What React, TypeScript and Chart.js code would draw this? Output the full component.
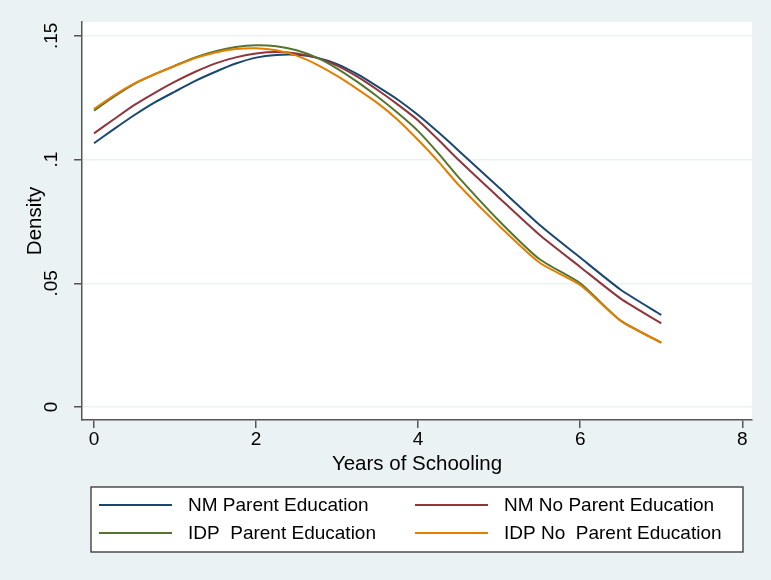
import React, { useEffect, useRef } from 'react';
import { Chart, registerables } from 'chart.js';

Chart.register(...registerables);

// ---- data ----
const xValues = [0, 0.25, 0.5, 0.75, 1, 1.25, 1.5, 1.75, 2, 2.25, 2.5, 2.75, 3, 3.25, 3.5, 3.75, 4, 4.25, 4.5, 5, 5.5, 6, 6.5, 7];

const nmParentEducation = [0.1066, 0.1124, 0.118, 0.1231, 0.1275, 0.1318, 0.1355, 0.1388, 0.1412, 0.1423, 0.1424, 0.1412, 0.1386, 0.1345, 0.1295, 0.1242, 0.118, 0.111, 0.1036, 0.0886, 0.0736, 0.0604, 0.0474, 0.0372];
const nmNoParentEducation = [0.1106, 0.1164, 0.1221, 0.127, 0.1315, 0.1355, 0.1389, 0.1413, 0.1429, 0.1435, 0.1429, 0.1411, 0.138, 0.1335, 0.1281, 0.1222, 0.1158, 0.108, 0.0998, 0.0845, 0.0695, 0.0566, 0.0438, 0.0338];
const idpParentEducation = [0.1198, 0.1255, 0.1306, 0.1345, 0.138, 0.1413, 0.1438, 0.1455, 0.1462, 0.1458, 0.1442, 0.1412, 0.1368, 0.1314, 0.1254, 0.1188, 0.1115, 0.1025, 0.0928, 0.0752, 0.0597, 0.05, 0.0349, 0.026];
const idpNoParentEducation = [0.1205, 0.126, 0.1308, 0.1345, 0.1378, 0.141, 0.1433, 0.1447, 0.145, 0.1442, 0.142, 0.1384, 0.1338, 0.1285, 0.1228, 0.116, 0.1079, 0.0992, 0.0897, 0.0732, 0.0583, 0.0493, 0.0348, 0.026];

const seriesLabels = ['NM Parent Education', 'NM No Parent Education', 'IDP  Parent Education', 'IDP No  Parent Education'];
const seriesValues = [nmParentEducation, nmNoParentEducation, idpParentEducation, idpNoParentEducation];
const seriesColors = ['#1a476f', '#90353b', '#55752f', '#e37e00'];

const xTicks = [0, 2, 4, 6, 8];
const xTickLabels = ['0', '2', '4', '6', '8'];
const yTicks = [0, 0.05, 0.1, 0.15];
const yTickLabels = ['0', '.05', '.1', '.15'];

const xTitle = 'Years of Schooling';
const yTitle = 'Density';

// ---- styling ----
const FONT = '"Liberation Sans", Arial, Helvetica, sans-serif';
const BG = '#EAF2F3';
const AXIS = '#555555';

const backgroundPlugin = {
  id: 'stataBackground',
  beforeDraw(chart: any) {
    const { ctx, chartArea, width, height } = chart;
    ctx.save();
    ctx.fillStyle = BG;
    ctx.fillRect(0, 0, width, height);
    ctx.fillStyle = '#ffffff';
    ctx.fillRect(chartArea.left, chartArea.top, chartArea.right - chartArea.left, chartArea.bottom - chartArea.top);
    ctx.restore();
  },
};

const legendPlugin = {
  id: 'stataLegend',
  afterDraw(chart: any) {
    const ctx = chart.ctx;
    const box = { left: 91, top: 487, right: 743, bottom: 552 };
    ctx.save();
    ctx.fillStyle = '#ffffff';
    ctx.fillRect(box.left, box.top, box.right - box.left, box.bottom - box.top);
    ctx.strokeStyle = '#333333';
    ctx.lineWidth = 1.3;
    ctx.strokeRect(box.left, box.top, box.right - box.left, box.bottom - box.top);
    const colX = [99, 415];
    const rowY = [505, 533];
    const lineLen = 73;
    const gap = 16;
    ctx.font = `19px ${FONT}`;
    ctx.textBaseline = 'middle';
    ctx.textAlign = 'left';
    chart.data.datasets.forEach((ds: any, i: number) => {
      const cx = colX[i % 2];
      const cy = rowY[Math.floor(i / 2)];
      ctx.strokeStyle = ds.borderColor;
      ctx.lineWidth = 2;
      ctx.beginPath();
      ctx.moveTo(cx, cy);
      ctx.lineTo(cx + lineLen, cy);
      ctx.stroke();
      ctx.fillStyle = '#000000';
      ctx.fillText(ds.label, cx + lineLen + gap, cy + 1);
    });
    ctx.restore();
  },
};

export default function App() {
  const canvasRef = useRef<HTMLCanvasElement | null>(null);

  useEffect(() => {
    document.body.style.margin = '0';
    const canvas = canvasRef.current;
    if (!canvas) return;
    const chart = new Chart(canvas, {
      type: 'line',
      data: {
        datasets: seriesValues.map((vals, i) => ({
          label: seriesLabels[i],
          data: xValues.map((x, j) => ({ x, y: vals[j] })),
          borderColor: seriesColors[i],
          backgroundColor: seriesColors[i],
          borderWidth: 2,
          pointRadius: 0,
          tension: 0.2,
          fill: false,
          order: seriesValues.length - i,
        })),
      },
      options: {
        responsive: false,
        animation: false,
        devicePixelRatio: 1,
        layout: { padding: { top: 22, right: 19, bottom: 103.7, left: 0 } },
        plugins: {
          legend: { display: false },
          tooltip: { enabled: false },
        },
        scales: {
          x: {
            type: 'linear',
            min: -0.148,
            max: 8.12,
            afterBuildTicks: (s: any) => {
              s.ticks = xTicks.map((v) => ({ value: v }));
            },
            afterFit: (s: any) => {
              s.height = 56.3;
            },
            grid: { drawOnChartArea: false, drawTicks: true, tickLength: 8, tickColor: AXIS, lineWidth: 1.5, color: AXIS },
            border: { display: true, color: AXIS, width: 1.5 },
            ticks: {
              padding: 0,
              maxRotation: 0,
              autoSkip: false,
              color: '#000000',
              font: { family: FONT, size: 19, lineHeight: 1.2 },
              callback: (v: any) => {
                const k = xTicks.findIndex((t) => Math.abs(t - v) < 1e-9);
                return k >= 0 ? xTickLabels[k] : '';
              },
            },
            title: {
              display: true,
              text: xTitle,
              color: '#000000',
              font: { family: FONT, size: 20.5, lineHeight: 1.2 },
              padding: { top: 0, bottom: 0 },
            },
          },
          y: {
            type: 'linear',
            min: -0.00525,
            max: 0.1556,
            afterBuildTicks: (s: any) => {
              s.ticks = yTicks.map((v) => ({ value: v }));
            },
            afterFit: (s: any) => {
              s.width = 82;
            },
            grid: { drawOnChartArea: true, drawTicks: true, tickLength: 8, color: BG, tickColor: AXIS, lineWidth: 1.5 },
            border: { display: true, color: AXIS, width: 1.5 },
            ticks: {
              minRotation: 90,
              maxRotation: 90,
              crossAlign: 'center',
              padding: 9,
              autoSkip: false,
              color: '#000000',
              font: { family: FONT, size: 19, lineHeight: 1.2 },
              callback: (v: any) => {
                const k = yTicks.findIndex((t) => Math.abs(t - v) < 1e-9);
                return k >= 0 ? yTickLabels[k] : '';
              },
            },
            title: {
              display: true,
              text: yTitle,
              color: '#000000',
              font: { family: FONT, size: 20.5, lineHeight: 1.2 },
              padding: { top: 23, bottom: 0 },
            },
          },
        },
      },
      plugins: [backgroundPlugin, legendPlugin],
    } as any);
    return () => chart.destroy();
  }, []);

  return (
    <div style={{ width: 771, height: 580 }}>
      <canvas ref={canvasRef} width={771} height={580} style={{ display: 'block' }} />
    </div>
  );
}
